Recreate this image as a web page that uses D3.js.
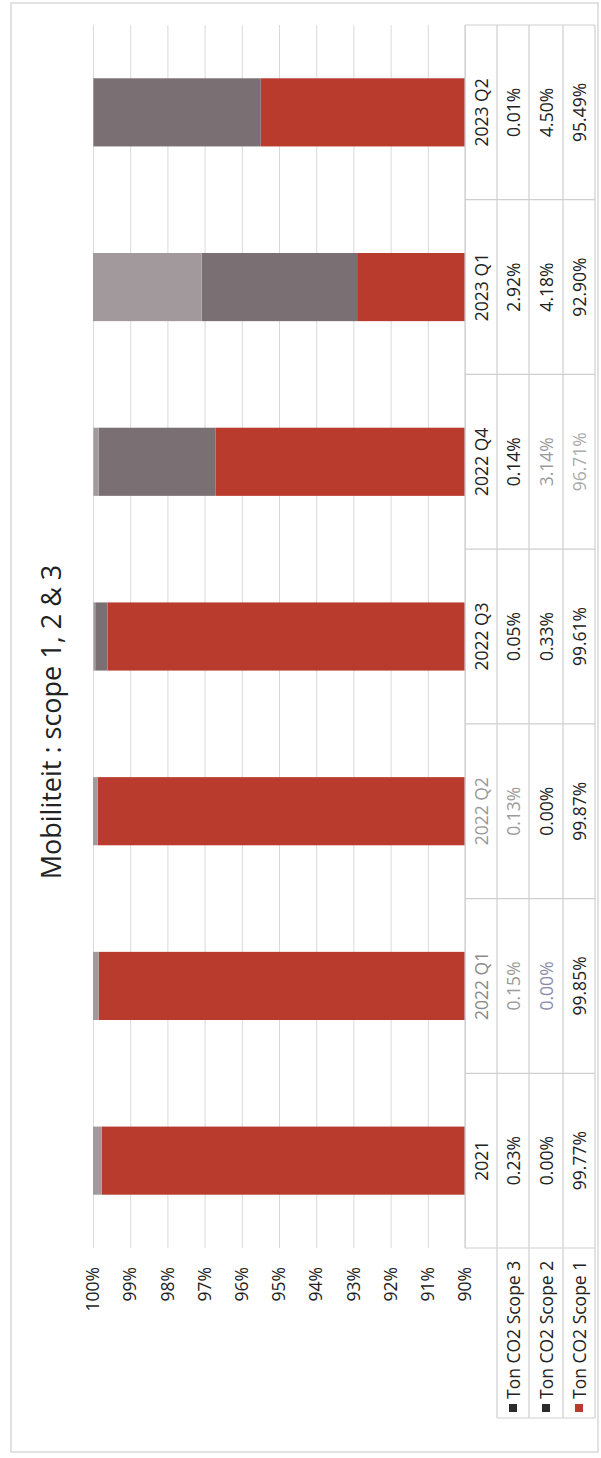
<!DOCTYPE html>
<html>
<head>
<meta charset="utf-8">
<script src="https://cdn.jsdelivr.net/npm/d3@7"></script>
<style>
  body { margin: 0; background: #fff; }
  svg { display: block; font-family: "Open Sans", sans-serif; }
</style>
</head>
<body>
<svg id="chart" width="601" height="1458"></svg>
<script>
// data (percent of total)
const categories = ["2021", "2022 Q1", "2022 Q2", "2022 Q3", "2022 Q4", "2023 Q1", "2023 Q2"];
const scope1 = [99.77, 99.85, 99.87, 99.61, 96.71, 92.90, 95.49];
const scope2 = [0.00, 0.00, 0.00, 0.33, 3.14, 4.18, 4.50];
const scope3 = [0.23, 0.15, 0.13, 0.05, 0.14, 2.92, 0.01];
const seriesNames = ["Ton CO2 Scope 3", "Ton CO2 Scope 2", "Ton CO2 Scope 1"];
const tickValues = [0.90, 0.91, 0.92, 0.93, 0.94, 0.95, 0.96, 0.97, 0.98, 0.99, 1.00];
const title = "Mobiliteit : scope 1, 2 & 3";

// the page is the chart turned a quarter turn, so draw it upright in a W x H frame and rotate
const W = 1458, H = 601;
const svg = d3.select("#chart");
svg.append("rect").attr("width", 601).attr("height", 1458).attr("fill", "#fff");
const g = svg.append("g").attr("transform", `translate(0,${W}) rotate(-90)`);

const rows = categories.map((c, i) => ({cat: c, s1: scope1[i] / 100, s2: scope2[i] / 100, s3: scope3[i] / 100}));
const stack = d3.stack().keys(["s1", "s2", "s3"])(rows);
const colors = {s1: "#b93b2e", s2: "#7a7074", s3: "#a2999c"};

const x = d3.scaleBand().domain(categories).range([210, 1433]);
const y = d3.scaleLinear().domain([0.9, 1]).range([465, 93]).clamp(true);

// outer frame
g.append("rect")
    .attr("x", 6).attr("y", 11).attr("width", 1449).attr("height", 587)
    .attr("fill", "none").attr("stroke", "#d9d9d9").attr("stroke-width", 1.5);

// grid + value labels
const axis = g.append("g")
    .attr("transform", `translate(${x.range()[0]},0)`)
    .call(d3.axisLeft(y).tickValues(tickValues).tickSize(-(x.range()[1] - x.range()[0]))
        .tickPadding(19).tickFormat(d3.format(".0%")));
axis.select(".domain").remove();
axis.selectAll("line").attr("stroke", "#d9d9d9");
axis.selectAll("text").attr("font-size", 17.5).attr("fill", "#222").attr("font-family", "Open Sans");

// bars
const bw = x.bandwidth() * 0.39;
g.append("g").selectAll("g")
    .data(stack)
    .join("g")
    .attr("fill", d => colors[d.key])
    .selectAll("rect")
    .data(d => d)
    .join("rect")
    .attr("x", d => x(d.data.cat) + (x.bandwidth() - bw) / 2)
    .attr("width", bw)
    .attr("y", d => y(d[1]))
    .attr("height", d => y(d[0]) - y(d[1]));

// data table under the plot
const rowY = [465, 497, 529, 563, 595];
const table = g.append("g").attr("stroke", "#cfcfcf").attr("stroke-width", 1.2);
rowY.forEach((ry, i) => {
  table.append("line")
      .attr("x1", i === 0 ? x.range()[0] : 40).attr("x2", x.range()[1])
      .attr("y1", ry).attr("y2", ry);
});
categories.forEach(c => {
  table.append("line").attr("x1", x(c)).attr("x2", x(c)).attr("y1", rowY[0]).attr("y2", rowY[4]);
});
table.append("line").attr("x1", x.range()[1]).attr("x2", x.range()[1]).attr("y1", rowY[0]).attr("y2", rowY[4]);
table.append("line").attr("x1", 40).attr("x2", 40).attr("y1", rowY[1]).attr("y2", rowY[4]);

// faded cells in the scan
const fadedCells = {"0-1": "#8a8a8a", "1-1": "#9a9a9a", "2-1": "#8c8caa", "0-2": "#999", "1-2": "#9a9a9a", "2-4": "#9a9a9a", "3-4": "#aaa"};
const cellRows = [categories, scope3.map(v => v.toFixed(2) + "%"), scope2.map(v => v.toFixed(2) + "%"), scope1.map(v => v.toFixed(2) + "%")];
cellRows.forEach((vals, r) => {
  g.append("g").selectAll("text")
      .data(vals)
      .join("text")
      .attr("x", (d, i) => x(categories[i]) + x.bandwidth() / 2)
      .attr("y", (rowY[r] + rowY[r + 1]) / 2)
      .attr("text-anchor", "middle")
      .attr("dominant-baseline", "central")
      .attr("font-size", 17.5)
      .attr("fill", (d, i) => fadedCells[r + "-" + i] || "#222")
      .text(d => d);
});

// row headers with legend keys
const keyColors = ["#2b2b2b", "#2b2b2b", "#b93b2e"];
seriesNames.forEach((name, i) => {
  const cy = (rowY[i + 1] + rowY[i + 2]) / 2;
  g.append("rect").attr("x", 46).attr("y", cy - 4).attr("width", 8).attr("height", 8).attr("fill", keyColors[i]);
  g.append("text").attr("x", 59).attr("y", cy)
      .attr("dominant-baseline", "central").attr("font-size", 17.5).attr("fill", "#222")
      .text(name);
});

// title
g.append("text")
    .attr("x", 736).attr("y", 50)
    .attr("text-anchor", "middle").attr("dominant-baseline", "central")
    .attr("font-size", 27).attr("fill", "#222")
    .text(title);
</script>
</body>
</html>
